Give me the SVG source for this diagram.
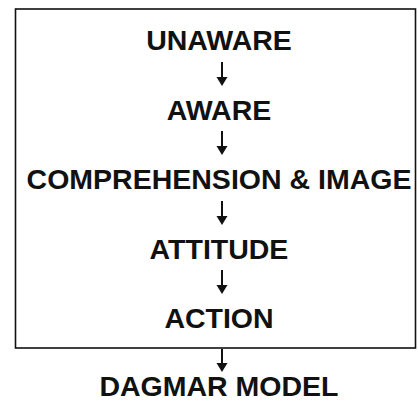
<svg xmlns="http://www.w3.org/2000/svg" width="418" height="403" viewBox="0 0 418 403">
<style>
.t{font-family:"Liberation Sans",Arial,Helvetica,sans-serif;font-size:28.5px;font-weight:bold;fill:#111;text-anchor:middle}
.c{stroke:#111;stroke-width:2;fill:none}
.h{fill:#111}
.box{stroke:#111;stroke-width:1.6;fill:none}
</style>
<defs>
<path id="head" class="h" d="M-5.5,0 L5.5,0 L0,9 Z"/>
</defs>
<rect id="frame" class="box" x="15.5" y="9" width="400" height="339"/>
<g id="connectors">
<line class="c" x1="222" y1="62" x2="222" y2="78"/><use href="#head" x="222" y="77"/>
<line class="c" x1="222" y1="131" x2="222" y2="147"/><use href="#head" x="222" y="146"/>
<line class="c" x1="222" y1="201" x2="222" y2="217"/><use href="#head" x="222" y="216"/>
<line class="c" x1="222" y1="270" x2="222" y2="286"/><use href="#head" x="222" y="285"/>
<line class="c" x1="222" y1="349" x2="222" y2="364"/><use href="#head" x="222" y="363"/>
</g>
<g id="unaware"><text class="t" x="219" y="50">UNAWARE</text></g>
<g id="aware"><text class="t" x="219" y="119.5">AWARE</text></g>
<g id="comprehension"><text class="t" x="219" y="189">COMPREHENSION &amp; IMAGE</text></g>
<g id="attitude"><text class="t" x="219" y="258.5">ATTITUDE</text></g>
<g id="action"><text class="t" x="219" y="328">ACTION</text></g>
<g id="dagmar"><text class="t" x="219" y="396">DAGMAR MODEL</text></g>
</svg>
